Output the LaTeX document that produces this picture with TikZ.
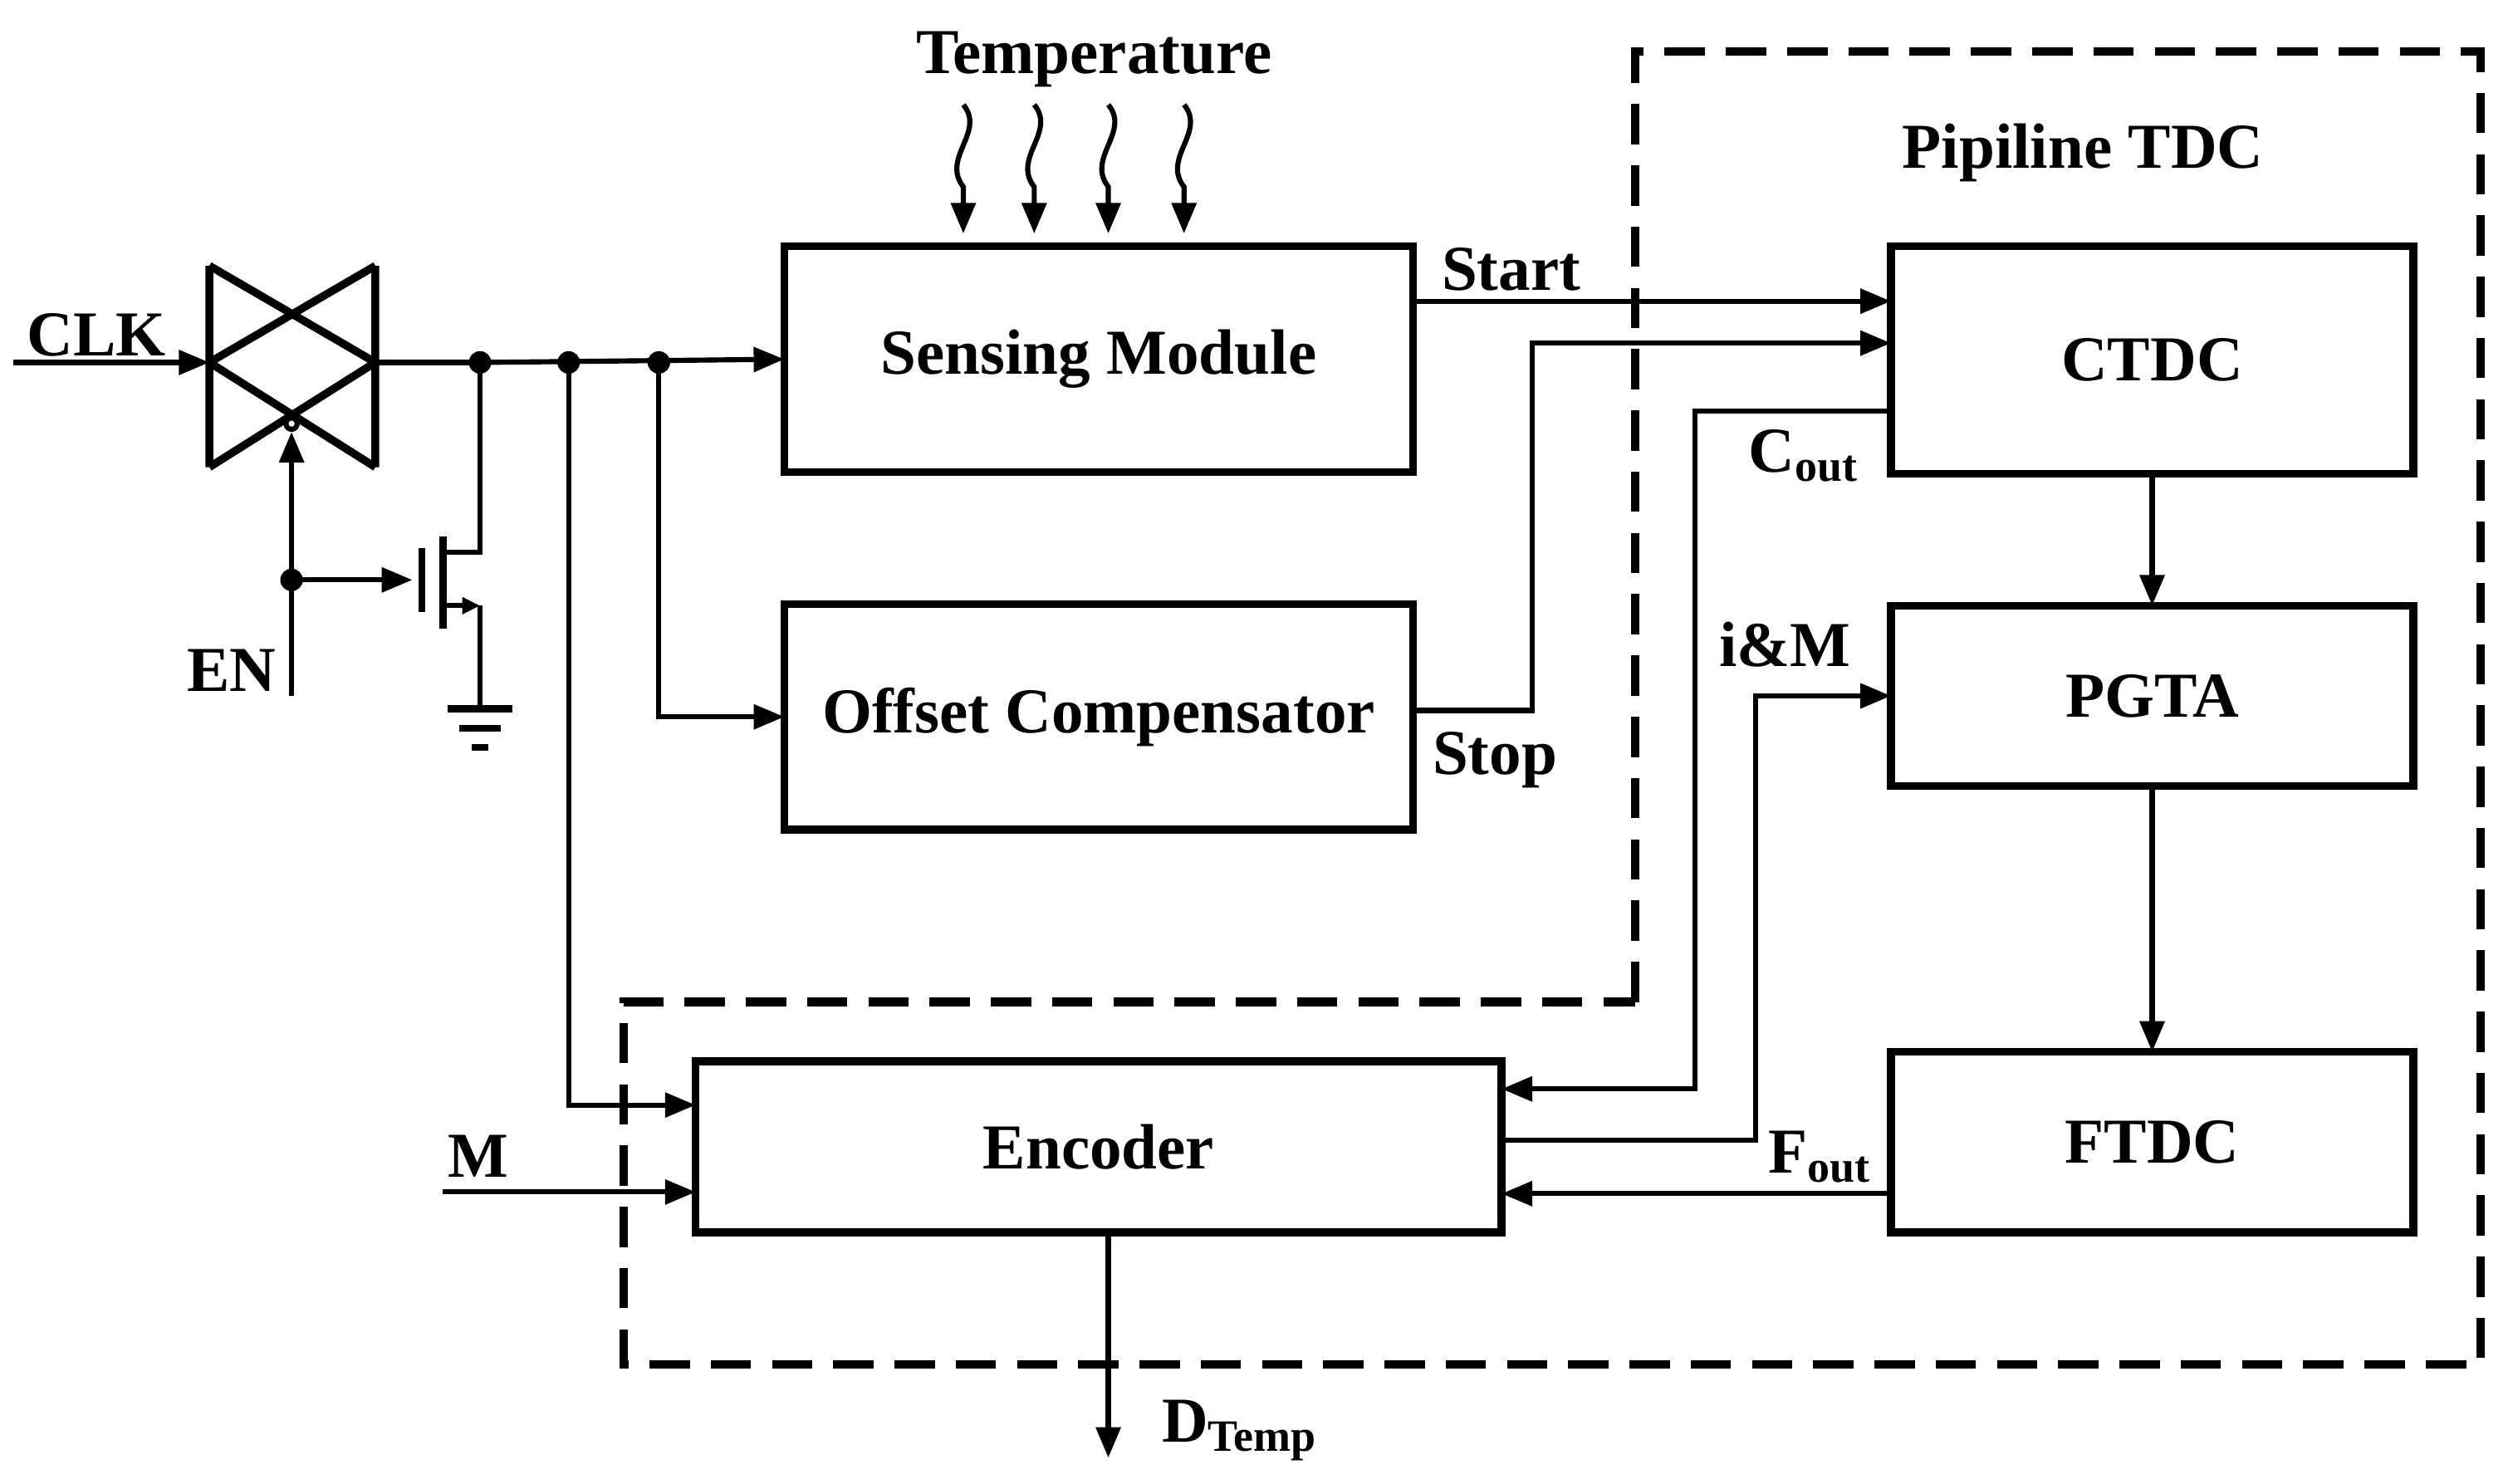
\documentclass[tikz,border=0pt]{standalone}
\usepackage{fontspec}
\setmainfont{Liberation Serif}
\usetikzlibrary{arrows.meta,calc}

\def\wirew{0.9pt}
\def\boxw{1.4pt}

\tikzset{
  blk/.style = {draw, line width=\boxw, font=\fontsize{11.3}{13}\selectfont\bfseries,
    inner sep=0pt, outer sep=0pt},
  wire/.style = {line width=\wirew},
  arr/.style = {wire, -{Triangle[length=0.19cm,width=0.15cm]}},
  lbl/.style = {font=\fontsize{11.3}{13}\selectfont\bfseries, inner sep=0pt},
  dot/.style = {circle, fill, inner sep=0pt, minimum size=0.14cm},
  dashbox/.style = {line width=1.5pt, dash pattern=on 0.25cm off 0.13cm}
}

\begin{document}
\begin{tikzpicture}[x=0.01cm, y=-0.01cm]
  \useasboundingbox (0,0) rectangle (1560,921);

  % blocks
  \node[blk, minimum width=3.9cm, minimum height=1.4cm] (sense) at (682,223) {Sensing Module};
  \node[blk, minimum width=3.9cm, minimum height=1.4cm] (offset) at (682,445) {Offset Compensator};
  \node[blk, minimum width=5.0cm, minimum height=1.06cm] (enc) at (682,712) {Encoder};
  \node[blk, minimum width=3.24cm, minimum height=1.41cm] (ctdc) at (1336,223.5) {CTDC};
  \node[blk, minimum width=3.24cm, minimum height=1.12cm] (pgta) at (1336,432) {PGTA};
  \node[blk, minimum width=3.24cm, minimum height=1.12cm] (ftdc) at (1336,709) {FTDC};

  % dashed outline of the pipeline TDC
  \draw[dashbox] (1015,622) -- (1015,32) -- (1540,32) -- (1540,847)
    -- (387,847) -- (387,622) -- cycle;
  \node[lbl] (tdc) at (1293,95) {Pipiline TDC};

  % temperature
  \node[lbl] (temp) at (679,37) {Temperature};
  \foreach \x in {598,642,688,735} {
    \draw[arr] (\x,65) .. controls (\x+14,82) and (\x-14,98) .. (\x,116) -- (\x,145);
  }

  % transmission gate
  \draw[line width=\boxw, line join=round]
    (130,165) -- (130,290) (233,165) -- (233,290)
    (130,165) -- (233,225) -- (130,290)
    (233,165) -- (130,225) -- (233,290);
  \coordinate (tgin) at (130,225);
  \coordinate (tgout) at (233,225);
  \node[circle, draw, line width=\wirew, fill=white, inner sep=0pt, minimum size=0.07cm] (bub) at (181,263) {};
  \coordinate (clkin) at (8,225);
  \node[lbl] (clk) at (60,208) {CLK};
  \draw[arr] (clkin) -- (tgin);

  % enable
  \coordinate (enin) at (181,432);
  \node[lbl, anchor=east] (en) at (172,416) {EN};
  \node[dot] (d0) at (181,360) {};
  \draw[arr] (enin) -- (bub.south);
  \draw[arr] (d0.center) -- (256,360);

  % nmos switch
  \draw[line width=1.2pt] (262,340) -- (262,380) (275,333) -- (275,390);
  \node[dot] (d1) at (298,225) {};
  \draw[wire] (d1.center) -- (298,343) -- (275,343);
  \draw[wire, -{Triangle[length=0.11cm,width=0.1cm]}] (275,376) -- (298,376);
  \draw[wire] (298,376) -- (298,440);
  \draw[line width=1.2pt] (278,440) -- (318,440) (285,452) -- (311,452) (293,464) -- (303,464);

  % clock distribution
  \node[dot] (d2) at (353,225) {};
  \node[dot] (d3) at (409,225) {};
  \draw[wire] (tgout) -- (d1.center);
  \draw[arr] (d1.center) -- (sense.west);
  \draw[arr] (d3.center) |- (offset.west);
  \draw[arr] (d2.center) |- ([yshift=0.26cm]enc.west);
  \coordinate (min) at (275,740);
  \node[lbl] (m) at (297,718) {M};
  \draw[arr] (min) -- (min -| enc.west);

  % start / stop
  \draw[arr] ([yshift=0.36cm]sense.east) -- ([yshift=0.36cm]sense.east -| ctdc.west);
  \node[lbl] (start) at (938,167) {Start};
  \draw[arr] (offset.east |- 0,441) -- (951,441) -- (951,213) -- (ctdc.west |- 0,213);
  \node[lbl] (stop) at (928,472) {Stop};

  % pipeline stages
  \draw[arr] (ctdc.south) -- (pgta.north);
  \draw[arr] (pgta.south) -- (ftdc.north);

  % results to encoder
  \draw[arr] (ctdc.west |- 0,255) -- (1052,255) -- (1052,676) -- (enc.east |- 0,676);
  \node[lbl] (cout) at (1120,283) {C\textsubscript{out}};
  \draw[arr] (enc.east |- 0,708) -- (1090,708) -- (1090,432) -- (pgta.west);
  \node[lbl] (im) at (1108,400) {i\&M};
  \draw[arr] (ftdc.west |- 0,741) -- (enc.east |- 0,741);
  \node[lbl] (fout) at (1130,718) {F\textsubscript{out}};

  % output
  \coordinate (dout) at (688,905);
  \draw[arr] (enc.south -| dout) -- (dout);
  \node[lbl] (dt) at (770,888) {D\textsubscript{Temp}};
\end{tikzpicture}
\end{document}
